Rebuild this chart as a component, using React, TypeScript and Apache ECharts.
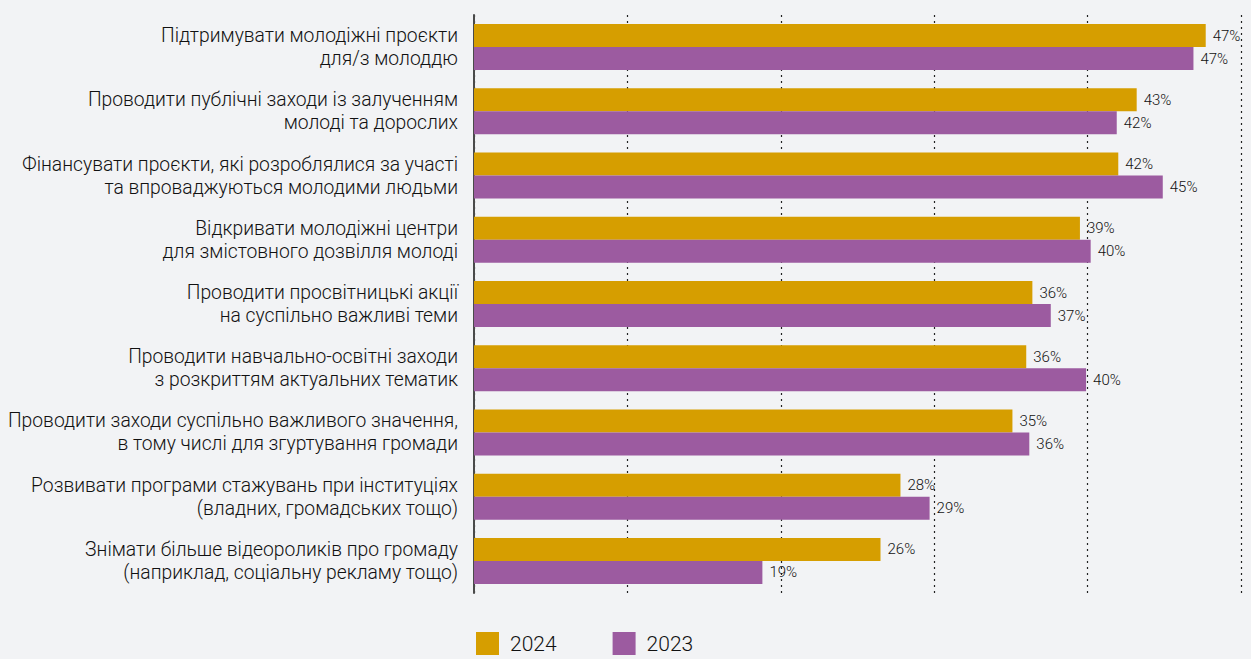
import React, { useEffect, useRef } from "react";
import * as echarts from "echarts";

const categories = [
  "Підтримувати молодіжні проєкти\nдля/з молоддю",
  "Проводити публічні заходи із залученням\nмолоді та дорослих",
  "Фінансувати проєкти, які розроблялися за участі\nта впроваджуються молодими людьми",
  "Відкривати молодіжні центри\nдля змістовного дозвілля молоді",
  "Проводити просвітницькі акції\nна суспільно важливі теми",
  "Проводити навчально-освітні заходи\nз розкриттям актуальних тематик",
  "Проводити заходи суспільно важливого значення,\nв тому числі для згуртування громади",
  "Розвивати програми стажувань при інституціях\n(владних, громадських тощо)",
  "Знімати більше відеороликів про громаду\n(наприклад, соціальну рекламу тощо)",
];

// bar lengths
const values2024 = [47.7, 43.2, 42.0, 39.5, 36.4, 36.0, 35.1, 27.8, 26.5];
const values2023 = [46.9, 41.9, 44.9, 40.2, 37.6, 39.9, 36.2, 29.7, 18.8];
// printed percentages
const labels2024 = [47, 43, 42, 39, 36, 36, 35, 28, 26];
const labels2023 = [47, 42, 45, 40, 37, 40, 36, 29, 19];

const seriesNames = ["2024", "2023"];
const colors = ["#d69e00", "#9c5ba0"];

export default function App() {
  const ref = useRef<HTMLDivElement>(null);
  useEffect(() => {
    if (!ref.current) return;
    const chart = echarts.init(ref.current, null, { renderer: "svg" });
    const font = "Roboto, 'Noto Sans', sans-serif";
    const mkLabel = (arr: number[]) => ({
      show: true,
      position: "right",
      distance: 7,
      fontSize: 15,
      fontWeight: 300,
      fontFamily: font,
      color: "#111",
      formatter: (p: any) => arr[p.dataIndex] + "%",
    });
    chart.setOption({
      animation: false,
      backgroundColor: "#f2f3f5",
      textStyle: { fontFamily: font },
      legend: {
        left: 471,
        top: 627,
        itemWidth: 23,
        itemHeight: 23,
        itemGap: 56,
        icon: "rect",
        data: seriesNames,
        textStyle: { fontSize: 21, fontWeight: 300, color: "#111", fontFamily: font, padding: [0, 0, 0, 6] },
      },
      grid: { left: 474, right: 10, top: 15, bottom: 66, containLabel: false },
      xAxis: {
        type: "value",
        min: 0,
        max: 50,
        interval: 10,
        axisLabel: { show: false },
        axisLine: { show: false },
        axisTick: { show: false },
        splitLine: { show: true, lineStyle: { type: [2, 4], color: "#222", width: 1.2 } },
      },
      yAxis: {
        type: "category",
        inverse: true,
        data: categories,
        axisTick: { show: false },
        axisLine: { show: true, lineStyle: { color: "#4a4a4a", width: 2 } },
        axisLabel: {
          fontSize: 19.3,
          fontWeight: 300,
          lineHeight: 23,
          color: "#111",
          margin: 16,
          align: "right",
          fontFamily: font,
        },
      },
      series: [
        {
          name: seriesNames[0],
          type: "bar",
          data: values2024,
          barWidth: 23,
          barGap: "0%",
          itemStyle: { color: colors[0] },
          label: mkLabel(labels2024),
        },
        {
          name: seriesNames[1],
          type: "bar",
          data: values2023,
          barWidth: 23,
          barGap: "0%",
          itemStyle: { color: colors[1] },
          label: mkLabel(labels2023),
        },
      ],
    });
    return () => chart.dispose();
  }, []);
  return (
    <div
      ref={ref}
      style={{ position: "fixed", left: 0, top: 0, width: 1251, height: 659 }}
    />
  );
}
